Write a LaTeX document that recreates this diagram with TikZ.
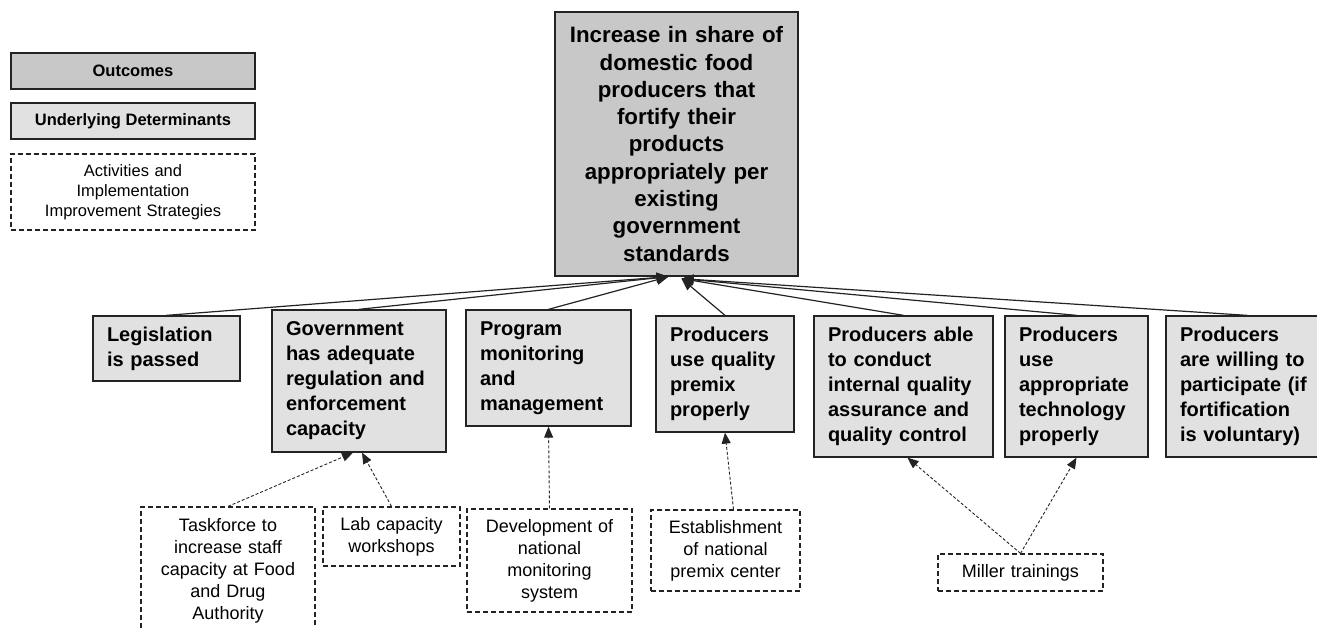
\documentclass[tikz,border=0pt]{standalone}
\usepackage{fontspec}
\setmainfont{Liberation Sans}
\usetikzlibrary{arrows.meta}

\definecolor{outfill}{RGB}{200,200,200}
\definecolor{detfill}{RGB}{225,225,225}
\definecolor{boxline}{RGB}{35,35,35}

\newcommand{\outtext}{\fontsize{22.3pt}{27.3pt}\selectfont\bfseries}
\newcommand{\dettext}{\fontsize{20pt}{25pt}\selectfont\bfseries\hyphenpenalty=10000}
\newcommand{\acttext}{\fontsize{18pt}{22pt}\selectfont}
\newcommand{\legtext}{\fontsize{16.5pt}{20pt}\selectfont}

\tikzset{
  outbox/.style={draw=boxline, fill=outfill, line width=1.3pt, align=center, inner xsep=10pt, inner ysep=0pt},
  detbox/.style={draw=boxline, fill=detfill, line width=1.3pt, align=left, inner xsep=14pt, inner ysep=0pt, font=\dettext},
  actbox/.style={draw=boxline, dash pattern=on 5pt off 3pt, line width=1.2pt, align=center, inner xsep=6pt, inner ysep=0pt, font=\acttext},
  tomain/.style={draw=boxline, line width=1.2pt, -{Triangle[length=12pt,width=10pt]}},
  toframe/.style={draw=boxline, line width=0.9pt, dash pattern=on 3pt off 2pt, -{Triangle[length=11pt,width=9pt]}}
}

\begin{document}
\begin{tikzpicture}[x=1pt, y=-1pt]
\useasboundingbox (0,0) rectangle (1317,628);

% legend
\node[outbox, font=\legtext\bfseries, minimum width=244pt, minimum height=36pt] (keyout) at (133,71) {Outcomes};
\node[outbox, fill=detfill, font=\legtext\bfseries, minimum width=244pt, minimum height=36pt] (keydet) at (133,121) {Underlying Determinants};
\node[actbox, font=\legtext, text width=232pt, minimum height=76pt] (keyact) at (133,192) {Activities and\\Implementation\\Improvement Strategies};

% outcome
\node[outbox, font=\outtext, text width=223pt, minimum height=264pt] (main) at (676.5,144)
  {Increase in share of\\domestic food\\producers that\\fortify their\\products\\appropriately per\\existing\\government\\standards};

% underlying determinants
\node[detbox, text width=119pt, minimum height=65pt] (leg) at (166.5,348.5) {Legislation\\is passed};
\node[detbox, text width=146pt, minimum height=142pt] (gov) at (359,381) {Government\\has adequate\\regulation~and\\enforcement\\capacity};
\node[detbox, text width=137pt, minimum height=116pt] (prog) at (548.5,368) {Program\\monitoring\\and\\management};
\node[detbox, text width=110pt, minimum height=116pt] (premix) at (725,374) {Producers\\use~quality\\premix\\properly};
\node[detbox, text width=151pt, minimum height=141pt] (able) at (903.5,386.5) {Producers~able\\to conduct\\internal~quality\\assurance~and\\quality~control};
\node[detbox, text width=115pt, minimum height=141pt] (tech) at (1076.5,386.5) {Producers\\use\\appropriate\\technology\\properly};
\node[detbox, text width=134pt, minimum height=141pt] (will) at (1247,386.5) {Producers\\are~willing~to\\participate~(if\\fortification\\is~voluntary)};

% activities
\node[actbox, text width=162pt, minimum height=128pt] (task) at (228,571) {Taskforce to\\increase staff\\capacity at Food\\and Drug\\Authority};
\node[actbox, text width=125pt, minimum height=59pt] (lab) at (391.5,536.5) {Lab capacity\\workshops};
\node[actbox, text width=153pt, minimum height=103pt] (dev) at (549.5,560.5) {Development of\\national\\monitoring\\system};
\node[actbox, text width=137pt, minimum height=81pt] (est) at (725.5,550.5) {Establishment\\of national\\premix center};
\node[actbox, text width=153pt, minimum height=37pt] (miller) at (1020.5,572.5) {Miller trainings};

% links to the outcome
\foreach \n in {leg,gov,prog}{
  \draw[tomain] (\n.north) -- ([xshift=-8pt]main.south);
}
\foreach \n in {premix,able,tech,will}{
  \draw[tomain] (\n.north) -- ([xshift=5pt,yshift=-2pt]main.south);
}

% links from the activities
\draw[toframe] (task.north) -- ([xshift=-6pt]gov.south);
\draw[toframe] (lab.north) -- ([xshift=3pt]gov.south);
\draw[toframe] (dev.north) -- (prog.south);
\draw[toframe] ([xshift=8pt]est.north) -- (premix.south);
\draw[toframe] (miller.north) -- ([xshift=4pt]able.south);
\draw[toframe] (miller.north) -- (tech.south);
\end{tikzpicture}
\end{document}
